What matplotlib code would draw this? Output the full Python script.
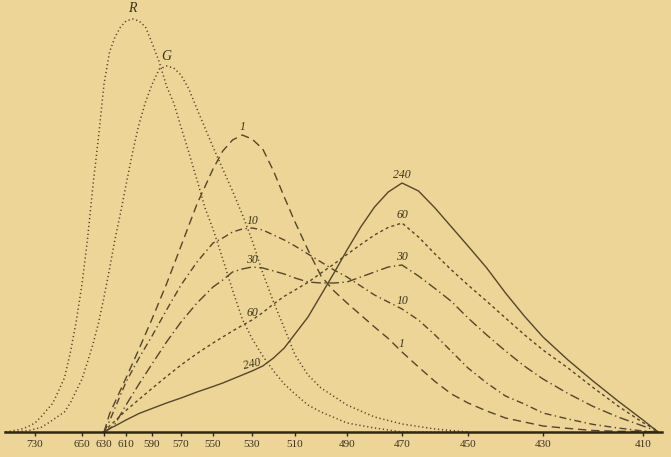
import numpy as np
import matplotlib
matplotlib.use("Agg")
import matplotlib.pyplot as plt

# ---------------- data ----------------
# wavelength ticks (nm) of the spectrum scale
tick_wl = [730, 650, 630, 610, 590, 570, 550, 530, 510, 490, 470, 450, 430, 410]

# R and G sensation curves
wl_rg = [780, 770, 760, 750, 740, 730, 720, 710, 700, 690, 680, 670, 660, 650, 645,
         640, 635, 630, 625, 620, 615, 610, 605, 600, 595, 590, 585, 580, 575, 570,
         565, 560, 555, 550, 545, 540, 535, 530, 525, 520, 515, 510, 505, 500, 490,
         480, 470, 460, 450]
curve_R = [0, 1, 2, 3.5, 6, 9, 15, 22, 28.5, 41, 54, 79, 110, 148, 193,
           247, 295, 348, 380, 395, 405, 411, 413, 411, 405, 389, 370, 346, 329, 305,
           279, 252, 224, 203, 173, 142, 113, 93.5, 76, 61, 48, 38, 27, 20, 9,
           4, 0, 0, 0]
curve_G = [0, 0, 0, 1, 1.5, 3, 4.5, 8, 12, 16, 20, 29, 41, 53, 70,
           88, 109, 135, 163, 193, 219, 247, 279.5, 308, 330, 347.5, 363, 366, 364, 357,
           342.6, 323, 304, 285, 263, 241, 217.6, 192, 159, 130, 104, 77, 57, 44, 27,
           15, 8, 3, 0]

# curves after exposures 1, 10, 30, 60, 240
wl_n = [630, 625, 620, 610, 600, 590, 580, 570, 560, 550, 545, 540, 535, 530, 525,
        520, 515, 510, 505, 500, 495, 490, 485, 480, 475, 470, 465, 460, 455, 450,
        445, 440, 435, 430, 425, 420, 415, 410, 407]
curve_1 = [0, 18, 30, 54, 83, 113, 148, 186, 228, 263, 281, 292, 297, 293, 283,
           261, 235, 210, 182, 156, 141, 129, 117, 105, 93.5, 80, 65, 50.5, 38, 29,
           21, 14, 10, 6, 3.6, 1.5, 0.7, 0.5, 0]
curve_10 = [0, 11, 24, 50, 74, 96, 122, 147, 170, 189, 194, 200, 203, 204, 202,
            197, 192, 186, 178, 170, 162, 155, 146, 137, 130, 123, 112, 97, 80.5, 64,
            49, 36, 28, 19, 13, 7.6, 4, 1, 0]
curve_30 = [0, 3, 8, 27, 48, 68, 90, 110, 129, 145, 152, 160, 163, 165, 164,
            161, 158, 154, 150, 149, 149, 150, 155, 160, 165, 167, 156, 143.5, 130.5, 114,
            97, 81, 66, 53, 38.5, 25.6, 15, 6, 0.5]
curve_60 = [0, 6, 11, 21.6, 32.6, 43.6, 55.5, 67, 78.5, 89, 95, 101, 106.6, 112, 119.4,
            128, 135.7, 142, 149.7, 159, 168, 177.6, 187.5, 197, 204.6, 209, 195, 178, 162, 147,
            130.7, 114, 97.4, 82, 64, 44.5, 26, 9.4, 1]
curve_240 = [0, 3.5, 6, 12, 18.5, 23.5, 29, 34, 40, 45.5, 49, 53, 57, 61, 66,
             74, 84, 98, 115, 137, 159, 182, 205, 225, 240, 249, 241, 224, 205, 186,
             164, 139, 116, 95, 72, 51, 31, 12, 0]

labels_n = ["1", "10", "30", "60", "240"]

# ---------------- non-linear spectrum scale ----------------
scale_wl = np.array(tick_wl, float)
scale_pos = np.array([35, 82, 104, 126, 152, 181, 213, 252, 295, 347, 402, 468, 543, 643], float)


def _pos(w):
    w = np.asarray(w, float)
    p = np.interp(-w, -scale_wl, scale_pos)
    p = np.where(w > scale_wl[0], scale_pos[0] + (scale_wl[0] - w) * 47 / 80, p)
    p = np.where(w < scale_wl[-1], scale_pos[-1] + (scale_wl[-1] - w) * 5.0, p)
    return p


def fwd(w):
    # increasing with wavelength
    return 1000.0 - _pos(w)


def inv(t):
    p = 1000.0 - np.asarray(t, float)
    w = np.interp(p, scale_pos, scale_wl)
    w = np.where(p < scale_pos[0], scale_wl[0] + (scale_pos[0] - p) * 80 / 47, w)
    w = np.where(p > scale_pos[-1], scale_wl[-1] - (p - scale_pos[-1]) / 5.0, w)
    return w


# ---------------- drawing ----------------
bg = "#ECD597"
ink = "#55462c"

fig = plt.figure(figsize=(6.71, 4.57), dpi=100, facecolor=bg)
ax = fig.add_axes([5 / 671, 25 / 457, 657 / 671, 432 / 457], facecolor=bg)
ax.set_xscale("function", functions=(fwd, inv))
ax.set_xlim(781.1, 406.2)
ax.set_ylim(0, 432)

lw = 1.0
ax.plot(wl_rg, curve_R, color=ink, lw=1.1, linestyle=(0, (0.8, 1.8)))
ax.plot(wl_rg, curve_G, color=ink, lw=1.1, linestyle=(0, (0.8, 1.8)))

styles = [(0, (6, 3.5)),
          (0, (5, 2.5, 1, 2.5)),
          (0, (7, 2.5, 1, 2.5)),
          (0, (2.2, 2.2)),
          "-"]
series = [curve_1, curve_10, curve_30, curve_60, curve_240]
for vals, ls in zip(series, styles):
    ax.plot(wl_n, vals, color=ink, lw=lw, linestyle=ls)

lab_font = dict(family="Liberation Serif", style="italic", color="#3d321e")

# R and G labels at peaks
iR = int(np.argmax(curve_R))
ax.text(wl_rg[iR], curve_R[iR] + 10, "R", fontsize=10, ha="center", va="center", **lab_font)
iG = int(np.argmax(curve_G))
ax.text(wl_rg[iG], curve_G[iG] + 10, "G", fontsize=10, ha="center", va="center", **lab_font)

# labels of numbered curves at 530 and 470 nm
i530 = wl_n.index(530)
i535 = wl_n.index(535)
i470 = wl_n.index(470)
for name, vals in zip(labels_n, series):
    if name == "1":
        ax.text(wl_n[i535], vals[i535] + 8, name, fontsize=8.5, ha="center", va="center", **lab_font)
    else:
        rot = 12 if name == "240" else 0
        ax.text(wl_n[i530], vals[i530] + 7, name, fontsize=8.5, ha="center", va="center",
                rotation=rot, **lab_font)
    ax.text(wl_n[i470], vals[i470] + 8, name, fontsize=8.5, ha="center", va="center", **lab_font)

# axis
for s in ["top", "left", "right"]:
    ax.spines[s].set_visible(False)
ax.spines["bottom"].set_linewidth(1.8)
ax.spines["bottom"].set_color("#2e2616")
ax.set_yticks([])
ax.set_xticks(tick_wl)
ax.set_xticklabels([str(t) for t in tick_wl], family="Liberation Serif", fontsize=8, color="#3d321e")
ax.xaxis.set_minor_locator(matplotlib.ticker.NullLocator())
ax.tick_params(axis="x", length=3, width=1, color="#2e2616", pad=3, direction="out")

fig.savefig("out.png", dpi=100, facecolor=bg)
